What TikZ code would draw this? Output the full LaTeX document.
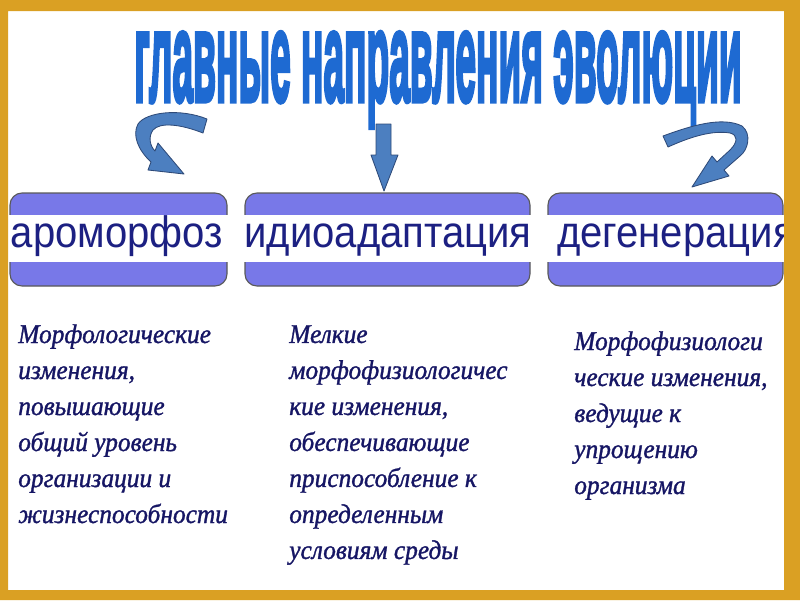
\documentclass[tikz,border=0pt]{standalone}
\usepackage{fontspec}
\usetikzlibrary{calc}
\setmainfont{Liberation Serif}
\newfontfamily\titlefont[FakeBold=4]{Liberation Sans}
\newfontfamily\barfont[FakeStretch=0.91]{Liberation Sans}
\newfontfamily\notefont[FakeStretch=0.94,FakeBold=1.2]{Liberation Serif}
\definecolor{framegold}{RGB}{218,160,35}
\definecolor{barblue}{RGB}{120,120,232}
\definecolor{bartext}{RGB}{28,32,130}
\definecolor{notetext}{RGB}{22,22,100}
\definecolor{titleblue}{RGB}{30,106,210}
\definecolor{arrowblue}{RGB}{76,127,192}
\definecolor{arrowedge}{RGB}{46,74,120}
\tikzset{
  barbox/.style={draw=black!65, line width=0.8pt, fill=barblue, rounded corners=0.3cm},
  barlabel/.style={anchor=base, inner sep=0pt, text=bartext, font=\barfont\fontsize{31.3}{36}\selectfont},
  note/.style={anchor=north west, inner sep=0pt, align=left, text=notetext, font=\notefont\itshape\fontsize{19.2}{25.6}\selectfont},
  bigarrow/.style={fill=arrowblue, draw=arrowedge, line width=0.6pt, line join=round},
  headline/.style={anchor=base, inner sep=0pt},
}
\begin{document}
\begin{tikzpicture}[x=0.025cm, y=-0.025cm]
\useasboundingbox (0,0) rectangle (800,600);

% title
\node[headline, text=titleblue] (title) at (438,101) {\resizebox{15.18cm}{1.72cm}{\titlefont\bfseries главные направления эволюции}};

% three bars
\foreach \xa/\xb in {10/227, 245/530, 548/783}{
  \draw[barbox] (\xa,193) rectangle (\xb,286);
  \fill[white] (\xa-2,215) rectangle (\xb+2,262);
}
\node[barlabel] (aro) at (117,247) {ароморфоз};
\node[barlabel] (idio) at (388,247) {идиоадаптация};
\node[barlabel] (degen) at (676,247) {дегенерация};

% arrows
\draw[bigarrow] (151,162) .. controls (138,150) and (132,135) .. (138,124) .. controls (146,112) and (180,108) .. (207,119) -- (203,133) .. controls (180,124) and (160,122) .. (153,130) .. controls (148,137) and (150,146) .. (155,151) -- (158,143) -- (184,174) -- (148,170) -- cycle;
\draw[bigarrow] (376,124) -- (391,124) -- (391,155) -- (398,155) -- (384,191) -- (371,155) -- (376,155) -- cycle;
\draw[bigarrow] (663,136) .. controls (690,126) and (722,116) .. (742,126) .. controls (752,134) and (748,150) .. (740,156) -- (724,170) -- (729,176) -- (692,187) -- (712,156) -- (717,162) -- (730,150) .. controls (738,142) and (738,135) .. (730,133) .. controls (712,130) and (690,137) .. (668,147) -- cycle;

% descriptions
\node[note] (aronote) at (18,324) {Морфологические\\изменения,\\повышающие\\общий уровень\\организации и\\жизнеспособности};
\node[note] (idionote) at (289,325) {Мелкие\\морфофизиологичес\\кие изменения,\\обеспечивающие\\приспособление к\\определенным\\условиям среды};
\node[note] (degennote) at (574,331) {Морфофизиологи\\ческие изменения,\\ведущие к\\упрощению\\организма};

% frame
\fill[framegold, even odd rule] (0,0) rectangle (800,600) (8,11) rectangle (784,590);
\end{tikzpicture}
\end{document}
